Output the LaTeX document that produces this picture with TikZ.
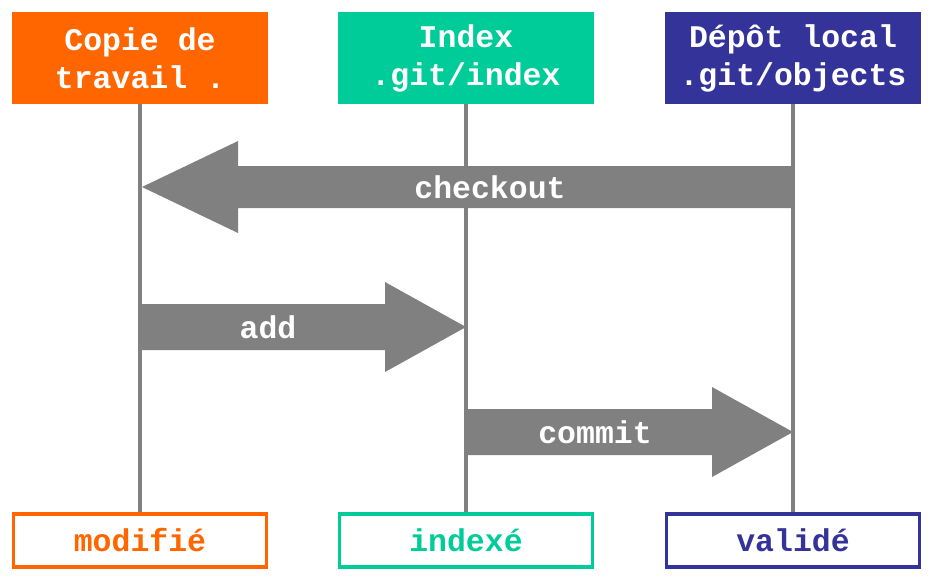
\documentclass[tikz,border=0pt]{standalone}
\usepackage{fontspec}
\setmainfont{Liberation Mono}
\usetikzlibrary{calc}
\definecolor{cOrange}{HTML}{FF6600}
\definecolor{cTeal}{HTML}{00CC99}
\definecolor{cIndigo}{HTML}{333399}
\definecolor{cGray}{HTML}{808080}
\begin{document}
\begin{tikzpicture}[x=1pt,y=-1pt,
  lbl/.style={font=\bfseries\fontsize{31.5}{38}\selectfont},
  topbox/.style={lbl, minimum width=256pt, minimum height=92pt, inner sep=0pt, align=center, text=white},
  botbox/.style={lbl, minimum width=253pt, minimum height=53pt, inner sep=0pt, line width=3.5pt, fill=white},
  life/.style={draw=cGray, line width=4pt},
  arrowfill/.style={fill=cGray},
  arrlbl/.style={lbl, text=white}]
\useasboundingbox (0,0) rectangle (936,581);
% top boxes
\node[topbox, fill=cOrange] (wt) at (140,58) {Copie de\\travail .};
\node[topbox, fill=cTeal] (it) at (466,58) {Index\\.git/index};
\node[topbox, fill=cIndigo] (rt) at (793,58) {Dépôt local\\.git/objects};
% bottom boxes
\node[botbox, draw=cOrange, text=cOrange] (wb) at (140,540.5) {modifié};
\node[botbox, draw=cTeal, text=cTeal] (ib) at (466,540.5) {indexé};
\node[botbox, draw=cIndigo, text=cIndigo] (rb) at (793,540.5) {validé};
% lifelines
\draw[life] (wt.south) -- (wb.north);
\draw[life] (it.south) -- (ib.north);
\draw[life] (rt.south) -- (rb.north);
% checkout arrow
\coordinate (cs) at (793,187);
\coordinate (ce) at (142,187);
\fill[arrowfill] ($(cs)+(0,-21)$) -- ($(ce)+(96,-21)$) -- ($(ce)+(96,-46)$) -- (ce)
  -- ($(ce)+(96,46)$) -- ($(ce)+(96,21)$) -- ($(cs)+(0,21)$) -- cycle;
\node[arrlbl] (lco) at (490,187) {checkout};
% add arrow
\coordinate (as) at (140,327);
\coordinate (ae) at (466,327);
\fill[arrowfill] ($(as)+(0,-23)$) -- ($(ae)+(-81,-23)$) -- ($(ae)+(-81,-45)$) -- (ae)
  -- ($(ae)+(-81,45)$) -- ($(ae)+(-81,23)$) -- ($(as)+(0,23)$) -- cycle;
\node[arrlbl] (lad) at (268,327) {add};
% commit arrow
\coordinate (ms) at (466,432);
\coordinate (me) at (793,432);
\fill[arrowfill] ($(ms)+(0,-23)$) -- ($(me)+(-81,-23)$) -- ($(me)+(-81,-45)$) -- (me)
  -- ($(me)+(-81,45)$) -- ($(me)+(-81,23)$) -- ($(ms)+(0,23)$) -- cycle;
\node[arrlbl] (lcm) at (595,432) {commit};
\end{tikzpicture}
\end{document}
